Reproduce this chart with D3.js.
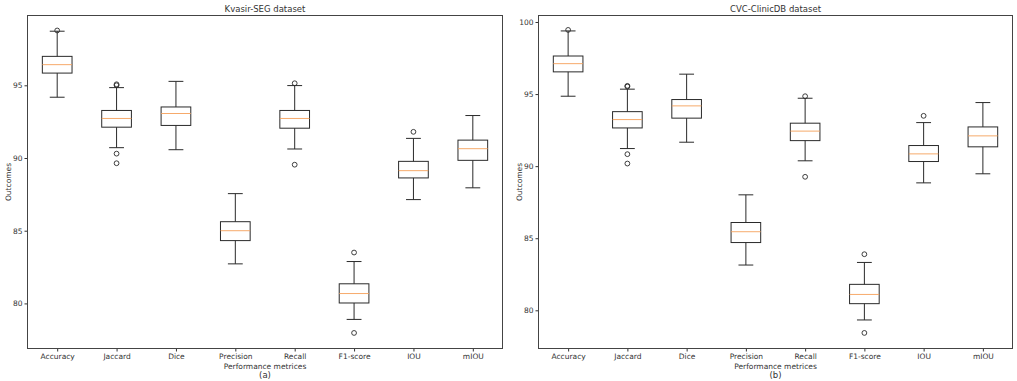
<!DOCTYPE html>
<html>
<head>
<meta charset="utf-8">
<script src="https://cdn.jsdelivr.net/npm/d3@7"></script>
<style>
    body { margin: 0; background: #fff; }
    svg { display: block; }
    text { font-family: "DejaVu Sans", sans-serif; fill: #333; }
    .tick text { font-size: 7.5px; }
    .tick line { stroke: #333; }
</style>
</head>
<body>
<div id="chart"></div>
<script>
// metric names on the x axis
const categories = ['Accuracy', 'Jaccard', 'Dice', 'Precision', 'Recall', 'F1-score', 'IOU', 'mIOU'];

// box stats per metric: [lower whisker, Q1, median, Q3, upper whisker]
const kvasirStats = [
    [94.18, 95.84, 96.42, 96.99, 98.72],
    [90.71, 92.12, 92.72, 93.27, 94.84],
    [90.57, 92.24, 93.06, 93.51, 95.27],
    [82.72, 84.32, 85.00, 85.62, 87.55],
    [90.62, 92.05, 92.72, 93.27, 94.98],
    [78.90, 80.03, 80.68, 81.35, 82.88],
    [87.14, 88.63, 89.13, 89.77, 91.35],
    [87.95, 89.84, 90.64, 91.23, 92.92]
];
const kvasirFliers = [
    [98.77],
    [95.07, 95.00, 90.30, 89.64],
    [],
    [],
    [95.14, 89.54],
    [83.50, 77.97],
    [91.80],
    []
];

const clinicStats = [
    [94.85, 96.54, 97.11, 97.64, 99.38],
    [91.22, 92.65, 93.23, 93.78, 95.34],
    [91.66, 93.33, 94.18, 94.62, 96.38],
    [83.14, 84.70, 85.45, 86.09, 88.01],
    [90.37, 91.77, 92.43, 92.98, 94.71],
    [79.33, 80.46, 81.10, 81.80, 83.32],
    [88.84, 90.32, 90.85, 91.43, 93.02],
    [89.47, 91.34, 92.10, 92.72, 94.41]
];
const clinicFliers = [
    [99.45],
    [95.57, 95.52, 90.83, 90.18],
    [],
    [],
    [94.85, 89.26],
    [83.89, 78.43],
    [93.49],
    []
];

const kvasirTicks = [80, 85, 90, 95];
const clinicTicks = [80, 85, 90, 95, 100];

const W = 1017, H = 381;
const svg = d3.select('#chart').append('svg')
    .attr('width', W).attr('height', H);

// draw one boxplot panel; box = [left, top, right, bottom] in pixels
function boxPanel(box, stats, fliers, yDomain, yTicks, title, sub) {
    const [x0, y0, x1, y1] = box;
    const g = svg.append('g');

    const x = d3.scalePoint(categories, [x0, x1]).padding(0.5);
    const y = d3.scaleLinear(yDomain, [y1, y0]);
    const step = x.step();
    const bw = step * 0.5;   // box width like matplotlib default
    const cw = bw * 0.5;     // cap width
    const ink = '#2a2a2a';

    const items = g.selectAll('.item')
        .data(categories.map((c, i) => ({ c, s: stats[i], f: fliers[i] })))
        .join('g').attr('class', 'item');

    // whiskers
    items.append('line')
        .attr('x1', d => x(d.c)).attr('x2', d => x(d.c))
        .attr('y1', d => y(d.s[0])).attr('y2', d => y(d.s[1]))
        .attr('stroke', ink).attr('stroke-width', 1);
    items.append('line')
        .attr('x1', d => x(d.c)).attr('x2', d => x(d.c))
        .attr('y1', d => y(d.s[3])).attr('y2', d => y(d.s[4]))
        .attr('stroke', ink).attr('stroke-width', 1);
    // caps
    [0, 4].forEach(k => {
        items.append('line')
            .attr('x1', d => x(d.c) - cw / 2).attr('x2', d => x(d.c) + cw / 2)
            .attr('y1', d => y(d.s[k])).attr('y2', d => y(d.s[k]))
            .attr('stroke', ink).attr('stroke-width', 1);
    });
    // box
    items.append('rect')
        .attr('x', d => x(d.c) - bw / 2)
        .attr('y', d => y(d.s[3]))
        .attr('width', bw)
        .attr('height', d => y(d.s[1]) - y(d.s[3]))
        .attr('fill', 'none').attr('stroke', ink).attr('stroke-width', 1);
    // median
    items.append('line')
        .attr('x1', d => x(d.c) - bw / 2).attr('x2', d => x(d.c) + bw / 2)
        .attr('y1', d => y(d.s[2])).attr('y2', d => y(d.s[2]))
        .attr('stroke', '#f5a05a').attr('stroke-width', 0.9);
    // outliers
    items.selectAll('circle')
        .data(d => d.f.map(v => ({ c: d.c, v })))
        .join('circle')
        .attr('cx', d => x(d.c)).attr('cy', d => y(d.v))
        .attr('r', 2.4)
        .attr('fill', 'none').attr('stroke', ink).attr('stroke-width', 0.9);

    // axes
    const ax = g.append('g').attr('transform', `translate(0,${y1})`)
        .call(d3.axisBottom(x).tickSize(3).tickPadding(2));
    ax.select('.domain').remove();
    ax.selectAll('text').attr('dy', '0.71em');
    const ay = g.append('g').attr('transform', `translate(${x0},0)`)
        .call(d3.axisLeft(y).tickValues(yTicks).tickSize(3).tickPadding(2));
    ay.select('.domain').remove();

    // frame
    g.append('rect')
        .attr('x', x0).attr('y', y0)
        .attr('width', x1 - x0).attr('height', y1 - y0)
        .attr('fill', 'none').attr('stroke', '#444').attr('stroke-width', 1);

    // labels
    const cx = (x0 + x1) / 2;
    g.append('text').attr('x', cx).attr('y', y0 - 4)
        .attr('text-anchor', 'middle').style('font-size', '8.5px').text(title);
    g.append('text').attr('x', cx).attr('y', y1 + 20)
        .attr('text-anchor', 'middle').style('font-size', '7.5px').text('Performance metrices');
    g.append('text').attr('x', cx).attr('y', y1 + 29.5)
        .attr('text-anchor', 'middle').style('font-size', '8.5px').text(sub);
    g.append('text')
        .attr('transform', `translate(${x0 - 17},${(y0 + y1) / 2})rotate(-90)`)
        .attr('text-anchor', 'middle').style('font-size', '7.5px').text('Outcomes');
}

boxPanel([27.5, 15.5, 502.5, 348.5], kvasirStats, kvasirFliers, [76.9, 99.8], kvasirTicks,
    'Kvasir-SEG dataset', '(a)');
boxPanel([538.5, 15.5, 1012.5, 348.5], clinicStats, clinicFliers, [77.35, 100.45], clinicTicks,
    'CVC-ClinicDB dataset', '(b)');
</script>
</body>
</html>
